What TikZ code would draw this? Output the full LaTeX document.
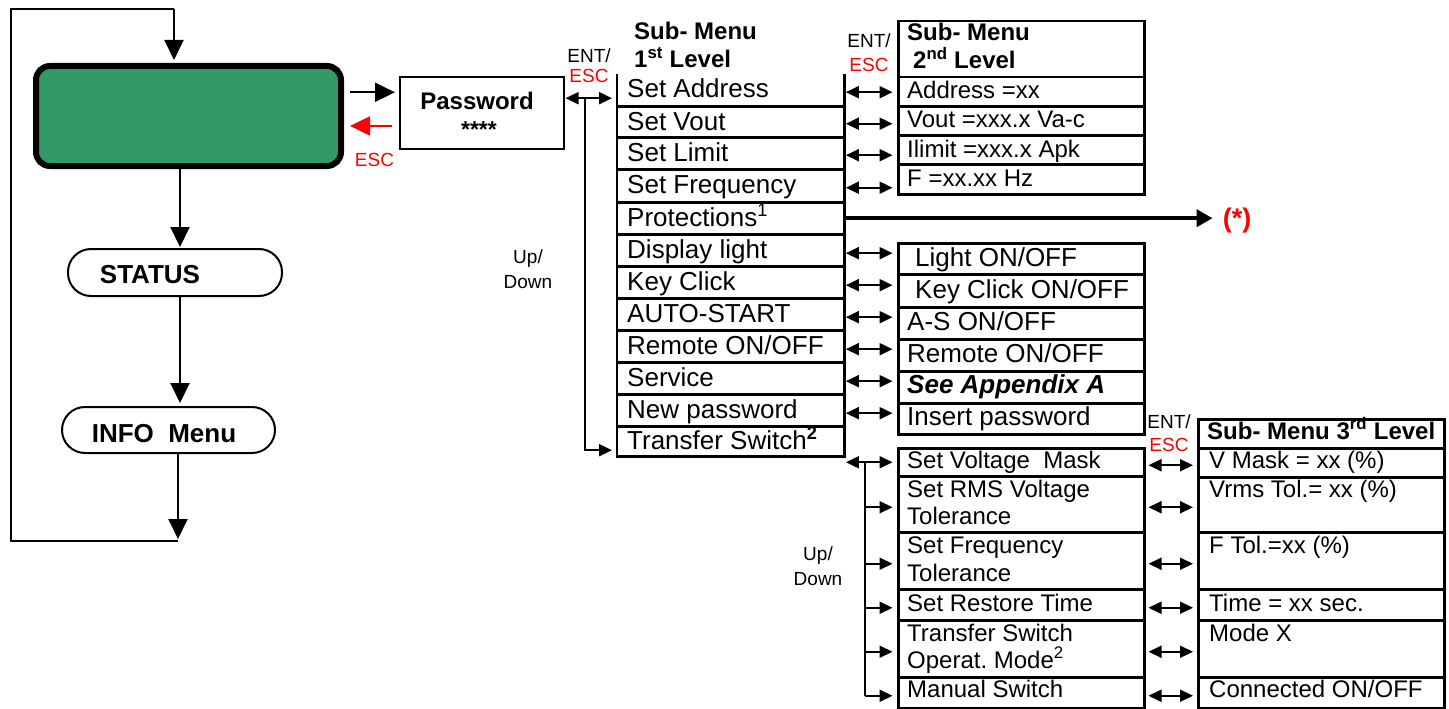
\documentclass[tikz,border=0pt]{standalone}
\usepackage{fontspec}
\setmainfont{Liberation Sans}
\usetikzlibrary{arrows.meta,calc}
\definecolor{dispgreen}{RGB}{51,153,102}
\definecolor{escred}{RGB}{255,0,0}
\begin{document}
\begin{tikzpicture}[x=1pt,y=-1pt,
  flow/.style={line width=2pt,-{Triangle[length=20pt,width=19pt]}},
  dbl/.style={line width=2pt,{Triangle[length=13pt,width=12pt]}-{Triangle[length=13pt,width=12pt]}},
  sgl/.style={line width=2pt,-{Triangle[length=13pt,width=12pt]}},
  mrow/.style={anchor=north west, inner sep=0pt, minimum width=227pt},
  rowbox/.style={draw, line width=2.5pt, anchor=north west, inner sep=0pt, minimum width=246pt},
  txa/.style={anchor=base west, inner sep=0pt, font=\fontsize{26}{30}\selectfont},
  txb/.style={anchor=base west, inner sep=0pt, font=\fontsize{24}{28}\selectfont},
  hdr/.style={anchor=base west, inner sep=0pt, font=\fontsize{24}{28}\selectfont\bfseries},
  small/.style={anchor=base, inner sep=0pt, font=\fontsize{19}{22}\selectfont},
  stad/.style={draw, line width=2pt, inner sep=0pt, rounded corners=23pt},
]
\useasboundingbox (0,0) rectangle (1449,709);

% ---------- left flow ----------
\node[draw, line width=6pt, fill=dispgreen, rounded corners=14pt, minimum width=305pt, minimum height=100pt, inner sep=0pt] (disp) at (188.5,116) {};
\node[stad, minimum width=214pt, minimum height=47pt] (st) at (175,272.5) {};
\node[anchor=base, inner sep=0pt, font=\fontsize{26}{30}\selectfont\bfseries] (stt) at (150,283) {STATUS};
\node[stad, minimum width=213pt, minimum height=46pt] (info) at (168.5,430) {};
\node[anchor=base, inner sep=0pt, font=\fontsize{26}{30}\selectfont\bfseries] (infot) at (164,442) {INFO\ \ Menu};

\coordinate (lp1) at (11,9);
\coordinate (lp2) at (174,9);
\coordinate (lp3) at (178,541);
\coordinate (c1) at ($(st.north)+(5,0)$);
\draw[line width=2pt] (lp3) -- (lp3 -| lp1) -- (lp1) -- (lp2);
\draw[flow, shorten >=3pt] (lp2) -- (lp2 |- disp.north);
\draw[flow, shorten >=1pt] (c1 |- disp.south) -- (c1);
\draw[flow, shorten >=3pt] (c1 |- st.south) -- (c1 |- info.north);
\draw[flow, shorten >=2pt] (lp3 |- info.south) -- (lp3);

% ---------- password ----------
\node[draw, line width=2pt, minimum width=164pt, minimum height=72pt, inner sep=0pt] (pw) at (482,113) {};
\node[anchor=base, inner sep=0pt, font=\fontsize{24}{28}\selectfont\bfseries] (pwt) at (477,110) {Password};
\node[anchor=base, inner sep=0pt, font=\fontsize{23}{26}\selectfont\bfseries] (pws) at (479,137) {****};
\coordinate (g1) at ($(pw.north west)!0.22!(pw.south west)$);
\coordinate (g2) at ($(pw.north west)!0.675!(pw.south west)$);
\draw[flow, shorten <=6pt, shorten >=4pt] (g1 -| disp.east) -- (g1);
\draw[flow, escred, shorten <=7pt, shorten >=6pt] (g2) -- (g2 -| disp.east);
\node[small, escred] (esc0) at (374.5,166) {ESC};

% ---------- sub-menu 1st level ----------
\node[hdr] (h1a) at (634,40) {Sub- Menu};
\node[hdr] (h1b) at (634,68) {1\textsuperscript{st} Level};
\node[mrow, minimum height=32pt] (m1) at (617,74) {};
\node[mrow, minimum height=31pt] (m2) at (617,106) {};
\node[mrow, minimum height=32pt] (m3) at (617,137) {};
\node[mrow, minimum height=33pt] (m4) at (617,169) {};
\node[mrow, minimum height=32pt] (m5) at (617,202) {};
\node[mrow, minimum height=32pt] (m6) at (617,234) {};
\node[mrow, minimum height=32pt] (m7) at (617,266) {};
\node[mrow, minimum height=32pt] (m8) at (617,298) {};
\node[mrow, minimum height=32pt] (m9) at (617,330) {};
\node[mrow, minimum height=32pt] (m10) at (617,362) {};
\node[mrow, minimum height=32pt] (m11) at (617,394) {};
\node[mrow, minimum height=30pt] (m12) at (617,426) {};
\draw[line width=2.5pt] (m1.north west) -- (m12.south west) -- (m12.south east) -- (m1.north east);
\foreach \i in {1,...,11} {\draw[line width=2.5pt] (m\i.south west) -- (m\i.south east);}
\node[txa] (m1t) at (627,98) {Set Address};
\node[txa] (m2t) at (627,130) {Set Vout};
\node[txa] (m3t) at (627,161) {Set Limit};
\node[txa] (m4t) at (627,193) {Set Frequency};
\node[txa] (m5t) at (627,226) {Protections\textsuperscript{1}};
\node[txa] (m6t) at (627,258) {Display light};
\node[txa] (m7t) at (627,290) {Key Click};
\node[txa] (m8t) at (627,322) {AUTO-START};
\node[txa] (m9t) at (627,354) {Remote ON/OFF};
\node[txa] (m10t) at (627,386) {Service};
\node[txa] (m11t) at (627,418) {New password};
\node[txa] (m12t) at (627,449) {Transfer Switch\textsuperscript{\bfseries 2}};

\coordinate (e1) at ($(pw.north east)!0.3!(pw.south east)$);
\draw[dbl, shorten <=0.5pt, shorten >=5pt] (e1) -- (e1 -| m1.west);
\coordinate (u1) at ($(e1)+(20,0)$);
\coordinate (m12b) at ($(m12.west)+(0,9)$);
\draw[sgl, shorten >=5pt] (u1) |- (m12b);
\node[small] (l1a) at (589,63) {ENT/};
\node[small, escred] (l1b) at (589,83) {ESC};
\node[small] (ud1a) at (528,263) {Up/};
\node[small] (ud1b) at (528,288) {Down};

% ---------- sub-menu 2nd level (a) ----------
\node[rowbox, minimum height=56pt] (a0) at (897,20) {};
\node[rowbox, minimum height=29pt] (a1) at (897,76) {};
\node[rowbox, minimum height=29pt] (a2) at (897,105) {};
\node[rowbox, minimum height=29pt] (a3) at (897,134) {};
\node[rowbox, minimum height=30pt] (a4) at (897,163) {};
\node[hdr] (h2a) at (907,41) {Sub- Menu};
\node[hdr] (h2b) at (913,69) {2\textsuperscript{nd} Level};
\node[txb] (a1t) at (907,99) {Address =xx};
\node[txb] (a2t) at (907,128) {Vout =xxx.x Va-c};
\node[txb] (a3t) at (907,157) {Ilimit =xxx.x Apk};
\node[txb] (a4t) at (907,186) {F =xx.xx Hz};
\node[small] (l2a) at (869,48) {ENT/};
\node[small, escred] (l2b) at (869,72) {ESC};
\foreach \i in {1,...,4} {
  \path (m\i.east) ++(0,2) coordinate (pa\i);
  \draw[dbl, shorten <=1.5pt, shorten >=4.5pt] (pa\i) -- (pa\i -| a\i.west);
}

% protections
\node[inner sep=0pt, escred, font=\fontsize{27}{30}\selectfont\bfseries] (star) at (1237,221) {(*)};
\draw[line width=4pt, -{Triangle[length=16pt,width=17pt]}, shorten >=10pt] (m5.east) -- (m5.east -| star.west);

% ---------- sub-menu 2nd level (b) ----------
\node[rowbox, minimum height=31pt] (b1) at (897,242) {};
\node[rowbox, minimum height=33pt] (b2) at (897,273) {};
\node[rowbox, minimum height=32pt] (b3) at (897,306) {};
\node[rowbox, minimum height=32pt] (b4) at (897,338) {};
\node[rowbox, minimum height=32pt] (b5) at (897,370) {};
\node[rowbox, minimum height=31pt] (b6) at (897,402) {};
\node[txa] (b1t) at (915,266) {Light ON/OFF};
\node[txa] (b2t) at (915,298) {Key Click ON/OFF};
\node[txa] (b3t) at (907,330) {A-S ON/OFF};
\node[txa] (b4t) at (907,362) {Remote ON/OFF};
\node[txa] (b5t) at (907,393) {\bfseries\itshape See Appendix A};
\node[txa] (b6t) at (907,425) {Insert password};
\foreach \i/\j in {6/1,7/2,8/3,9/4,10/5,11/6} {
  \path (m\i.east) ++(0,3) coordinate (pb\j);
  \draw[dbl, shorten <=1.5pt, shorten >=4.5pt] (pb\j) -- (pb\j -| b\j.west);
}

% ---------- transfer switch submenu ----------
\node[rowbox, minimum height=28pt] (s1) at (897,447) {};
\node[rowbox, minimum height=56pt] (s2) at (897,475) {};
\node[rowbox, minimum height=57pt] (s3) at (897,531) {};
\node[rowbox, minimum height=31pt] (s4) at (897,588) {};
\node[rowbox, minimum height=57pt] (s5) at (897,619) {};
\node[rowbox, minimum height=31pt] (s6) at (897,676) {};
\node[txb] (s1t) at (907,468) {Set Voltage\ \ Mask};
\node[txb] (s2t) at (907,497) {Set RMS Voltage};
\node[txb] (s2u) at (907,524) {Tolerance};
\node[txb] (s3t) at (907,553) {Set Frequency};
\node[txb] (s3u) at (907,581) {Tolerance};
\node[txb] (s4t) at (907,611) {Set Restore Time};
\node[txb] (s5t) at (907,641) {Transfer Switch};
\node[txb] (s5u) at (907,668) {Operat.\ Mode\textsuperscript{2}};
\node[txb] (s6t) at (907,697) {Manual Switch};

\coordinate (e2) at (s1.west -| m12.east);
\draw[dbl, shorten <=1.5pt, shorten >=4.5pt] (e2) -- (s1.west);
\coordinate (u2) at ($(e2)+(21,0)$);
\path (s6.west) ++(0,3) coordinate (q6);
\draw[line width=2pt] (u2) -- (u2 |- q6);
\foreach \i in {2,...,6} {
  \path (s\i.west) ++(0,3) coordinate (q\i);
  \draw[sgl, shorten >=4.5pt] (u2 |- q\i) -- (q\i);
}
\node[small] (ud2a) at (818,560) {Up/};
\node[small] (ud2b) at (818,585) {Down};

% ---------- sub-menu 3rd level ----------
\node[rowbox, minimum height=29pt] (t0) at (1197,418) {};
\node[rowbox, minimum height=29pt] (t1) at (1197,447) {};
\node[rowbox, minimum height=55pt] (t2) at (1197,476) {};
\node[rowbox, minimum height=57pt] (t3) at (1197,531) {};
\node[rowbox, minimum height=31pt] (t4) at (1197,588) {};
\node[rowbox, minimum height=57pt] (t5) at (1197,619) {};
\node[rowbox, minimum height=31pt] (t6) at (1197,676) {};
\node[hdr] (h3) at (1207,439) {Sub- Menu 3\textsuperscript{rd} Level};
\node[txb] (t1t) at (1209,468) {V Mask = xx (\%)};
\node[txb] (t2t) at (1209,497) {Vrms Tol.= xx (\%)};
\node[txb] (t3t) at (1209,553) {F Tol.=xx (\%)};
\node[txb] (t4t) at (1209,611) {Time = xx sec.};
\node[txb] (t5t) at (1209,641) {Mode X};
\node[txb] (t6t) at (1209,697) {Connected ON/OFF};
\node[small] (l3a) at (1169,428) {ENT/};
\node[small, escred] (l3b) at (1169,451) {ESC};
\foreach \i in {1,...,6} {
  \path (s\i.east) ++(0,3) coordinate (r\i);
  \draw[dbl, shorten <=3pt, shorten >=4pt] (r\i) -- (r\i -| t\i.west);
}
\end{tikzpicture}
\end{document}
